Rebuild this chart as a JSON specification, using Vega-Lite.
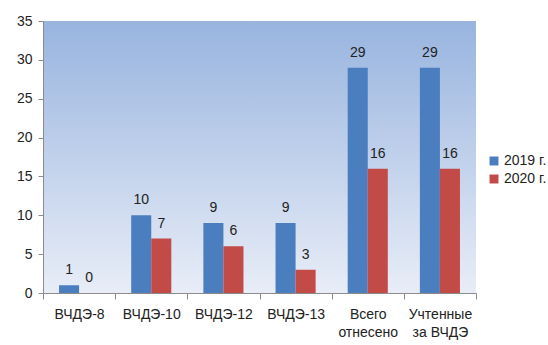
{
  "$schema": "https://vega.github.io/schema/vega-lite/v6.json",
  "width": 433,
  "height": 272,
  "autosize": {"type": "none"},
  "padding": {"left": 43, "top": 21, "right": 72, "bottom": 52},
  "background": "white",
  "config": {
    "view": {"stroke": null, "fill": {"gradient": "linear", "x1": 0, "y1": 0, "x2": 0, "y2": 1, "stops": [{"offset": 0, "color": "#98B4DF"}, {"offset": 1, "color": "#E8EDF7"}]}},
    "font": "Liberation Sans",
    "axis": {"labelFont": "Liberation Sans", "labelFontSize": 13, "labelColor": "#222222", "domainColor": "#8C8C8C", "tickColor": "#8C8C8C", "grid": false, "title": null}
  },
  "data": {"values": [
    {"cat": "ВЧДЭ-8", "year": "2019 г.", "v": 1},
    {"cat": "ВЧДЭ-8", "year": "2020 г.", "v": 0},
    {"cat": "ВЧДЭ-10", "year": "2019 г.", "v": 10},
    {"cat": "ВЧДЭ-10", "year": "2020 г.", "v": 7},
    {"cat": "ВЧДЭ-12", "year": "2019 г.", "v": 9},
    {"cat": "ВЧДЭ-12", "year": "2020 г.", "v": 6},
    {"cat": "ВЧДЭ-13", "year": "2019 г.", "v": 9},
    {"cat": "ВЧДЭ-13", "year": "2020 г.", "v": 3},
    {"cat": "Всего отнесено", "year": "2019 г.", "v": 29},
    {"cat": "Всего отнесено", "year": "2020 г.", "v": 16},
    {"cat": "Учтенные за ВЧДЭ", "year": "2019 г.", "v": 29},
    {"cat": "Учтенные за ВЧДЭ", "year": "2020 г.", "v": 16}
  ]},
  "encoding": {
    "x": {"field": "cat", "type": "nominal", "sort": null,
      "scale": {"paddingInner": 0, "paddingOuter": 0},
      "axis": {"labelAngle": 0, "tickBand": "extent", "tickSize": 6, "labelPadding": 8, "labelFontSize": 14,
        "labelExpr": "datum.label == 'Всего отнесено' ? ['Всего', 'отнесено'] : datum.label == 'Учтенные за ВЧДЭ' ? ['Учтенные', 'за ВЧДЭ'] : datum.label",
        "labelLineHeight": 18}},
    "xOffset": {"field": "year", "type": "nominal", "scale": {"paddingInner": 0, "paddingOuter": 0.8}},
    "y": {"field": "v", "type": "quantitative",
      "scale": {"domain": [0, 35], "nice": false},
      "axis": {"values": [0, 5, 10, 15, 20, 25, 30, 35], "tickSize": 5, "labelPadding": 6, "labelFontSize": 14}}
  },
  "layer": [
    {"mark": {"type": "bar"},
     "encoding": {"color": {"field": "year", "type": "nominal",
       "scale": {"domain": ["2019 г.", "2020 г."], "range": ["#4A7EBF", "#C24A47"]},
       "legend": {"title": null, "orient": "none", "legendX": 444, "legendY": 133, "symbolType": "square", "symbolSize": 80, "symbolStrokeWidth": 0, "labelFontSize": 14, "labelColor": "#222222", "labelFont": "Liberation Sans", "rowPadding": 4, "labelOffset": 3}}}},
    {"mark": {"type": "text", "baseline": "bottom", "dy": -8, "fontSize": 14, "color": "#222222"},
     "encoding": {"text": {"field": "v", "type": "quantitative"}}}
  ]
}
